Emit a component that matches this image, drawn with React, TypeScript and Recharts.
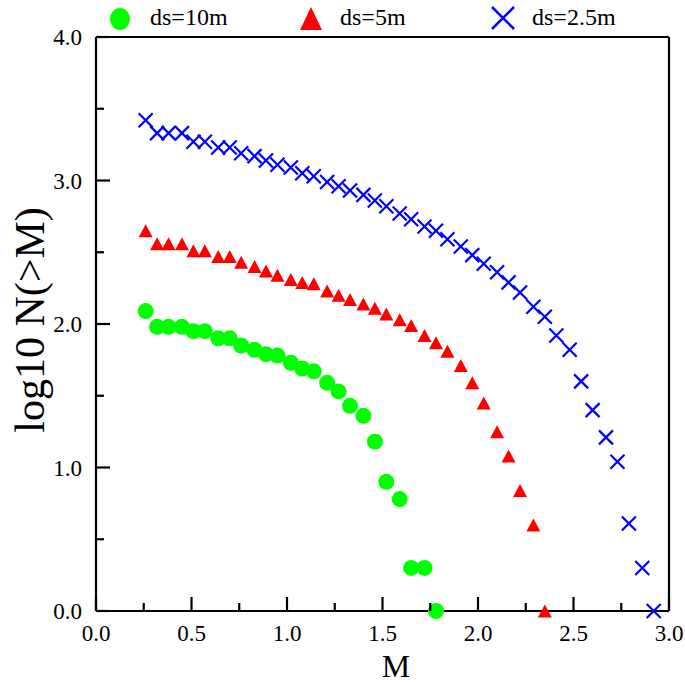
import React from "react";
import { ScatterChart, Scatter, XAxis, YAxis, Legend } from "recharts";

// M values (shared grid of magnitudes)
const mValues = [
  0.26, 0.32, 0.38, 0.45, 0.51, 0.57, 0.64, 0.70, 0.76, 0.83, 0.89, 0.95, 1.02, 1.08,
  1.14, 1.21, 1.27, 1.33, 1.40, 1.46, 1.52, 1.59, 1.65, 1.72, 1.78, 1.84, 1.91, 1.97,
  2.03, 2.10, 2.16, 2.22, 2.29, 2.35, 2.41, 2.48, 2.54, 2.60, 2.67, 2.73, 2.79, 2.86, 2.92,
];

// log10 N(>M) for ds=10m
const ds10 = [
  2.09, 1.98, 1.98, 1.98, 1.95, 1.95, 1.90, 1.90, 1.85, 1.82, 1.79, 1.78, 1.73, 1.69,
  1.67, 1.59, 1.53, 1.43, 1.36, 1.18, 0.90, 0.78, 0.30, 0.30, 0.00,
];

// log10 N(>M) for ds=5m
const ds5 = [
  2.65, 2.56, 2.56, 2.56, 2.51, 2.51, 2.47, 2.47, 2.43, 2.40, 2.37, 2.34, 2.31, 2.29,
  2.28, 2.23, 2.20, 2.17, 2.14, 2.11, 2.07, 2.03, 1.99, 1.92, 1.87, 1.81, 1.71, 1.59,
  1.45, 1.25, 1.08, 0.84, 0.60, 0.00,
];

// log10 N(>M) for ds=2.5m
const ds25 = [
  3.42, 3.33, 3.33, 3.33, 3.27, 3.27, 3.23, 3.23, 3.19, 3.17, 3.14, 3.11, 3.09, 3.05,
  3.03, 2.99, 2.96, 2.93, 2.90, 2.86, 2.82, 2.77, 2.73, 2.68, 2.65, 2.59, 2.54, 2.48,
  2.42, 2.36, 2.29, 2.22, 2.12, 2.05, 1.92, 1.82, 1.60, 1.40, 1.21, 1.04, 0.61, 0.30, 0.00,
];

const seriesNames = ["ds=10m", "ds=5m", "ds=2.5m"];
const xTicks = [0, 0.25, 0.5, 0.75, 1, 1.25, 1.5, 1.75, 2, 2.25, 2.5, 2.75, 3];
const yTicks = [0, 0.5, 1, 1.5, 2, 2.5, 3, 3.5, 4];

const GREEN = "#00ff00";
const RED = "#ff0000";
const BLUE = "#0000ff";
const FONT = "'Liberation Serif', 'Times New Roman', serif";

const toData = (ys: number[]) => ys.map((v, i) => ({ m: mValues[i], v }));
const data10 = toData(ds10);
const data5 = toData(ds5);
const data25 = toData(ds25);

const isMajorX = (v: number) => Math.abs(v * 2 - Math.round(v * 2)) < 1e-6;
const isMajorY = (v: number) => Math.abs(v - Math.round(v)) < 1e-6;
const MAJOR = 14;
const MINOR = 8;

const BottomTick = (p: any) => {
  const v = p.payload.value;
  const major = isMajorX(v);
  return (
    <g>
      <line x1={p.x} y1={p.y} x2={p.x} y2={p.y - (major ? MAJOR : MINOR)} stroke="#000" strokeWidth={2.2} />
      {major && (
        <text x={p.x} y={p.y + 30} textAnchor="middle" fontFamily={FONT} fontSize={23} fill="#000">
          {v.toFixed(1)}
        </text>
      )}
    </g>
  );
};

const TopTick = (p: any) => {
  const v = p.payload.value;
  const major = isMajorX(v);
  return <line x1={p.x} y1={p.y} x2={p.x} y2={p.y + (major ? MAJOR : MINOR)} stroke="#000" strokeWidth={2.2} />;
};

const LeftTick = (p: any) => {
  const v = p.payload.value;
  const major = isMajorY(v);
  return (
    <g>
      <line x1={p.x} y1={p.y} x2={p.x + (major ? MAJOR : MINOR)} y2={p.y} stroke="#000" strokeWidth={2.2} />
      {major && (
        <text x={p.x - 14} y={p.y + 8} textAnchor="end" fontFamily={FONT} fontSize={23} fill="#000">
          {v.toFixed(1)}
        </text>
      )}
    </g>
  );
};

const RightTick = (p: any) => {
  const v = p.payload.value;
  const major = isMajorY(v);
  return <line x1={p.x} y1={p.y} x2={p.x - (major ? MAJOR : MINOR)} y2={p.y} stroke="#000" strokeWidth={2.2} />;
};

const CircleShape = (p: any) => <circle cx={p.cx} cy={p.cy} r={8} fill={GREEN} />;

const TriangleShape = (p: any) => {
  const h = 13;
  const w = 14;
  const d = `M${p.cx},${p.cy - h / 2} L${p.cx + w / 2},${p.cy + h / 2} L${p.cx - w / 2},${p.cy + h / 2} Z`;
  return <path d={d} fill={RED} />;
};

const CrossShape = (p: any) => {
  const s = 7;
  return (
    <g stroke={BLUE} strokeWidth={2.2}>
      <line x1={p.cx - s} y1={p.cy - s} x2={p.cx + s} y2={p.cy + s} />
      <line x1={p.cx - s} y1={p.cy + s} x2={p.cx + s} y2={p.cy - s} />
    </g>
  );
};

const LegendContent = () => (
  <div style={{ position: "relative", width: 685, height: 36, fontFamily: FONT }}>
    <svg width={685} height={36} style={{ position: "absolute", left: 0, top: 0 }}>
      <ellipse cx={120} cy={19} rx={10} ry={11} fill={GREEN} />
      <path d="M311,7 L322,30 L300,30 Z" fill={RED} />
      <g stroke={BLUE} strokeWidth={2.5}>
        <line x1={492} y1={7} x2={514} y2={29} />
        <line x1={492} y1={29} x2={514} y2={7} />
      </g>
      <text x={150} y={25} fontFamily={FONT} fontSize={24} fill="#000">{seriesNames[0]}</text>
      <text x={340} y={25} fontFamily={FONT} fontSize={24} fill="#000">{seriesNames[1]}</text>
      <text x={532} y={25} fontFamily={FONT} fontSize={24} fill="#000">{seriesNames[2]}</text>
    </svg>
  </div>
);

export default function App() {
  return (
    <div style={{ position: "fixed", left: 0, top: 0, width: 685, height: 685, background: "#fff" }}>
      <ScatterChart width={685} height={685} margin={{ top: 36, right: 15, bottom: 73, left: 95 }}>
        <XAxis
          xAxisId="b"
          type="number"
          dataKey="m"
          domain={[0, 3]}
          ticks={xTicks}
          interval={0}
          height={1}
          tickSize={0}
          tickMargin={0}
          tickLine={false}
          tick={BottomTick}
          axisLine={{ stroke: "#000", strokeWidth: 2.2 }}
        />
        <XAxis
          xAxisId="t"
          orientation="top"
          type="number"
          domain={[0, 3]}
          ticks={xTicks}
          interval={0}
          height={1}
          tickSize={0}
          tickMargin={0}
          tickLine={false}
          tick={TopTick}
          axisLine={{ stroke: "#000", strokeWidth: 2.2 }}
        />
        <YAxis
          yAxisId="l"
          type="number"
          dataKey="v"
          domain={[0, 4]}
          ticks={yTicks}
          interval={0}
          width={1}
          tickSize={0}
          tickMargin={0}
          tickLine={false}
          tick={LeftTick}
          axisLine={{ stroke: "#000", strokeWidth: 2.2 }}
        />
        <YAxis
          yAxisId="r"
          orientation="right"
          type="number"
          domain={[0, 4]}
          ticks={yTicks}
          interval={0}
          width={1}
          tickSize={0}
          tickMargin={0}
          tickLine={false}
          tick={RightTick}
          axisLine={{ stroke: "#000", strokeWidth: 2.2 }}
        />
        <Legend
          verticalAlign="middle"
          layout="horizontal"
          content={LegendContent}
          wrapperStyle={{ top: 0, left: 0, width: 685, height: 36 }}
        />
        <Scatter name={seriesNames[0]} data={data10} xAxisId="b" yAxisId="l" shape={CircleShape} isAnimationActive={false} />
        <Scatter name={seriesNames[1]} data={data5} xAxisId="b" yAxisId="l" shape={TriangleShape} isAnimationActive={false} />
        <Scatter name={seriesNames[2]} data={data25} xAxisId="b" yAxisId="l" shape={CrossShape} isAnimationActive={false} />
        <text x={396} y={677} textAnchor="middle" fontFamily={FONT} fontSize={32} fill="#000">M</text>
        <text
          x={0}
          y={0}
          transform="translate(44, 320) rotate(-90)"
          textAnchor="middle"
          fontFamily={FONT}
          fontSize={42}
          fill="#000"
        >
          log10 N(&gt;M)
        </text>
      </ScatterChart>
    </div>
  );
}
